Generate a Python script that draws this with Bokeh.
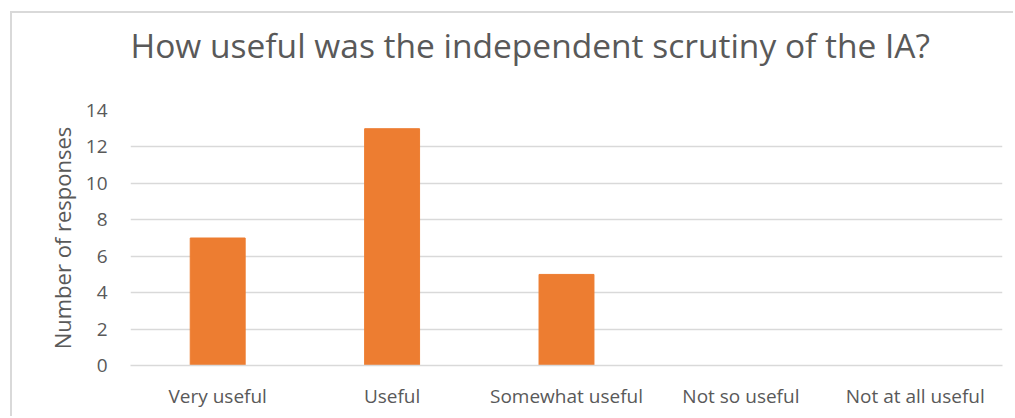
from bokeh.plotting import figure
from bokeh.embed import file_html
from bokeh.resources import INLINE
from bokeh.models import ColumnDataSource, FixedTicker, Title

categories = ["Very useful", "Useful", "Somewhat useful", "Not so useful", "Not at all useful"]
responses = [7, 13, 5, 0, 0]
y_ticks = [0, 2, 4, 6, 8, 10, 12, 14]
title_text = "How useful was the independent scrutiny of the IA?"

source = ColumnDataSource(data=dict(cat=categories, val=responses))

TEXT = "#595959"
GRID = "#D9D9D9"

p = figure(
    x_range=categories, y_range=(0, 14),
    width=1003, height=405,
    output_backend="svg", toolbar_location=None,
    min_border_left=118, min_border_right=13,
    min_border_top=97, min_border_bottom=53,
    styles={"margin-left": "10px", "margin-top": "11px",
            "border-left": "2px solid #D9D9D9", "border-top": "2px solid #D9D9D9"},
)

p.vbar(x="cat", top="val", width=0.315, source=source, color="#ED7D31")

# spacer panel between the frame and the title (added first -> nearest the frame)
spacer = Title(text=" ", text_font_size="1px", standoff=38)
p.add_layout(spacer, "above")

main_title = Title(text=title_text, text_font="Open Sans", text_font_size="33.5px",
                   text_font_style="normal", text_color=TEXT, align="left",
                   vertical_align="top", offset=0, standoff=0)
p.add_layout(main_title, "above")

p.outline_line_color = None
p.background_fill_color = "white"
p.border_fill_color = "white"

p.xgrid.grid_line_color = None
p.ygrid.grid_line_color = GRID
p.ygrid.grid_line_width = 1.5
p.yaxis.ticker = FixedTicker(ticks=y_ticks)

for ax in (p.xaxis, p.yaxis):
    ax.axis_line_color = None
    ax.major_tick_line_color = None
    ax.minor_tick_line_color = None
    ax.major_label_text_font = "Open Sans"
    ax.major_label_text_font_size = "19px"
    ax.major_label_text_color = TEXT

p.xaxis.axis_line_color = GRID
p.xaxis.axis_line_width = 1.5
p.xaxis.major_label_standoff = 11
p.yaxis.major_label_standoff = 17

p.yaxis.axis_label = "Number of responses"
p.yaxis.axis_label_text_font = "Open Sans"
p.yaxis.axis_label_text_font_size = "22px"
p.yaxis.axis_label_text_font_style = "normal"
p.yaxis.axis_label_text_color = TEXT
p.yaxis.axis_label_standoff = 6

open("out.html", "w").write(file_html(p, INLINE))
